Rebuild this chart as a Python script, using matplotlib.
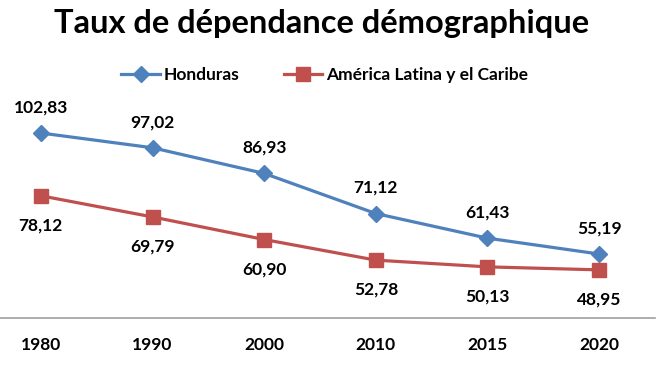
import matplotlib
matplotlib.use("Agg")
import matplotlib.pyplot as plt

# ----------------------------------------
#  Data
# ----------------------------------------
YEARS = ["1980", "1990", "2000", "2010", "2015", "2020"]
HONDURAS = [102.83, 97.02, 86.93, 71.12, 61.43, 55.19]
LATAM = [78.12, 69.79, 60.90, 52.78, 50.13, 48.95]

TITLE = "Taux de dépendance démographique"
BLUE = "#4F81BD"
RED = "#C0504D"

plt.rcParams["font.family"] = ["Lato", "DejaVu Sans"]
plt.rcParams["font.weight"] = "bold"

fig = plt.figure(figsize=(6.72, 3.65), dpi=100)
ax = fig.add_axes([-15 / 672, 47 / 365, 670 / 672, 228.6 / 365])

x = list(range(len(YEARS)))
ax.plot(x, HONDURAS, color=BLUE, lw=2.3, marker="D", ms=8.5,
        label="Honduras")
ax.plot(x, LATAM, color=RED, lw=2.3, marker="s", ms=9.5,
        label="América Latina y el Caribe")

fmt = lambda v: f"{v:.2f}".replace(".", ",")
for xi, v in zip(x, HONDURAS):
    ax.annotate(fmt(v), (xi, v), xytext=(0, 18.5), textcoords="offset points",
                ha="center", va="center", fontsize=12.5, fontweight="bold")
for xi, v in zip(x, LATAM):
    ax.annotate(fmt(v), (xi, v), xytext=(0, -21.5), textcoords="offset points",
                ha="center", va="center", fontsize=12.5, fontweight="bold")

ax.set_xlim(-0.5, len(YEARS) - 0.5)
ax.set_ylim(30, 120)
ax.set_xticks(x)
ax.set_xticklabels(YEARS, fontsize=12.5, fontweight="bold")
ax.tick_params(axis="x", length=0, pad=14)
ax.set_yticks([])
for side in ["top", "left", "right"]:
    ax.spines[side].set_visible(False)
ax.spines["bottom"].set_color("#A0A0A0")
ax.spines["bottom"].set_linewidth(1.2)

fig.text(0.478, 0.935, TITLE, ha="center", va="center",
         fontsize=23.5, fontweight="bold")
fig.legend(loc="center", bbox_to_anchor=(0.483, 0.795), ncol=2,
           frameon=False, handlelength=2.2, columnspacing=2.6,
           handletextpad=0.2, prop={"weight": "bold", "size": 12.5})

fig.savefig("out.png", dpi=100)
